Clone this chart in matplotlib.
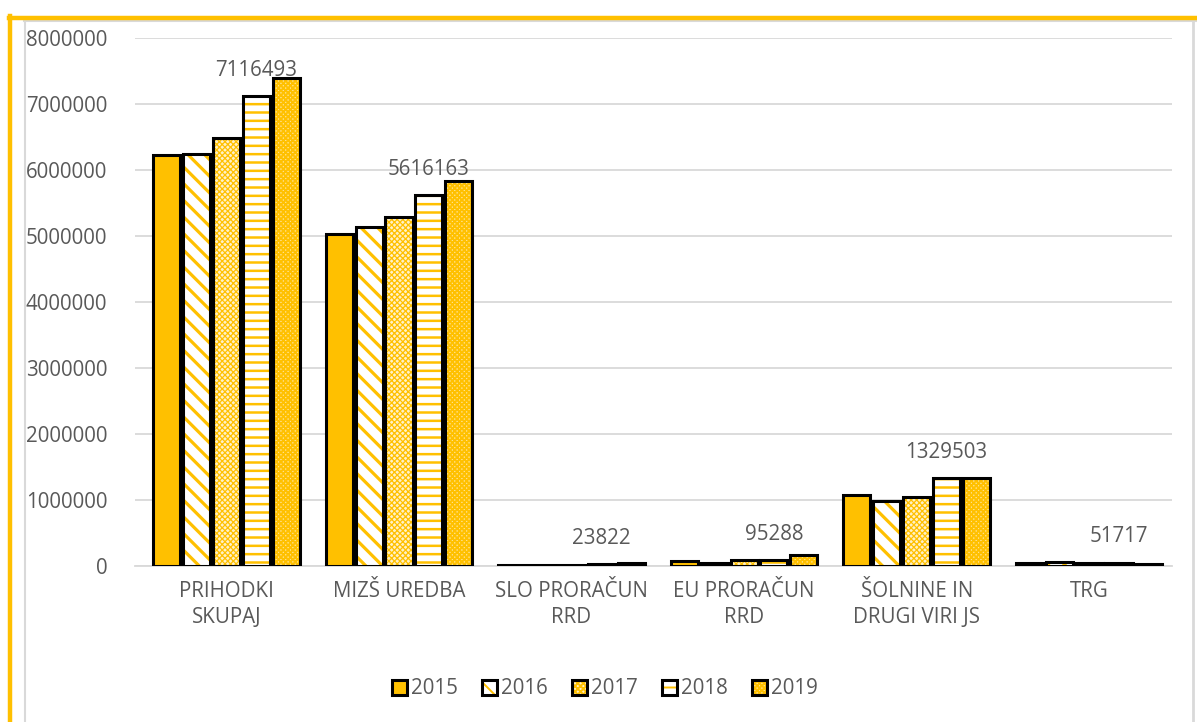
import matplotlib
matplotlib.use("Agg")
import matplotlib.pyplot as plt
import numpy as np
from matplotlib.lines import Line2D

categories = ["PRIHODKI\nSKUPAJ", "MIZŠ UREDBA", "SLO PRORAČUN\nRRD", "EU PRORAČUN\nRRD",
              "ŠOLNINE IN\nDRUGI VIRI JS", "TRG"]
years = ["2015", "2016", "2017", "2018", "2019"]
v2015 = [6220000, 5030000, 15000, 70000, 1080000, 40000]
v2016 = [6240000, 5140000, 10000, 40000, 990000, 55000]
v2017 = [6480000, 5290000, 20000, 90000, 1040000, 50000]
v2018 = [7116493, 5616163, 23822, 95288, 1329503, 51717]
v2019 = [7390000, 5830000, 40000, 170000, 1330000, 25000]
series = [v2015, v2016, v2017, v2018, v2019]
yticks = [0, 1000000, 2000000, 3000000, 4000000, 5000000, 6000000, 7000000, 8000000]

YEL = "#FFC000"
GRAY = "#595959"
plt.rcParams['font.family'] = ['Open Sans', 'DejaVu Sans']
FS = 14.8

styles = [
    dict(face=YEL, hatch=None, hlw=1.0),
    dict(face="white", hatch="\\\\", hlw=2.3),
    dict(face="#FFF1C6", hatch="xxxxxx", hlw=0.9),
    dict(face="white", hatch="--", hlw=1.8),
    dict(face="#FFE391", hatch="xxxxxxx", hlw=1.4),
]

fig = plt.figure(figsize=(11.97, 7.22), dpi=100)
ax = fig.add_axes([135/1197, 1-566/722, (1172-135)/1197, (566-38)/722])

x = np.arange(len(categories))
step = 0.173
width = 0.157
handles = []
for i, (vals, st) in enumerate(zip(series, styles)):
    pos = x + (i - 2) * step
    plt.rcParams['hatch.linewidth'] = st['hlw']
    b1 = ax.bar(pos, vals, width, color=st['face'], edgecolor=YEL, linewidth=0,
                hatch=st['hatch'], zorder=2)
    for p in b1:
        if hasattr(p, 'set_hatch_linewidth'):
            p.set_hatch_linewidth(st['hlw'])
    b2 = ax.bar(pos, vals, width, fill=False, edgecolor="black", linewidth=2.2, zorder=3)
    handles.append((b1[0], b2[0]))
    if i == 3:
        for xp, v in zip(pos, vals):
            ax.text(xp, v + 230000, f"{v}", ha="center", va="bottom", fontsize=FS, color=GRAY)

ax.set_xlim(-0.53, 5.48)
ax.set_ylim(0, 8000000)
ax.set_yticks(yticks)
ax.set_yticklabels([str(t) for t in yticks])
ax.set_xticks(x)
ax.set_xticklabels(categories, linespacing=1.3)
ax.tick_params(axis='y', length=0, pad=20, labelsize=FS, labelcolor=GRAY)
ax.tick_params(axis='x', length=0, pad=11, labelsize=FS, labelcolor=GRAY)
ax.grid(axis='y', color="#D9D9D9", linewidth=1.3, zorder=0)
ax.set_axisbelow(True)
for s in ['top', 'right', 'left']:
    ax.spines[s].set_visible(False)
ax.spines['bottom'].set_color("#D9D9D9")
ax.spines['bottom'].set_linewidth(1.3)

leg = fig.legend(handles, years, loc='center', bbox_to_anchor=(605/1197, 1-689/722), ncol=5,
                 frameon=False, fontsize=FS, handlelength=0.7, handleheight=0.7,
                 handletextpad=0.2, columnspacing=1.2, labelcolor=GRAY)

# frame decorations
fig.add_artist(Line2D([24.5/1197, 24.5/1197], [0, 1-20/722], color="#D9D9D9", linewidth=1.5, transform=fig.transFigure))
fig.add_artist(Line2D([1192.5/1197, 1192.5/1197], [0, 1-20/722], color="#D9D9D9", linewidth=2, transform=fig.transFigure))
fig.add_artist(Line2D([24/1197, 1], [1-20.5/722, 1-20.5/722], color="#D9D9D9", linewidth=1.5, transform=fig.transFigure))
fig.add_artist(Line2D([10/1197, 10/1197], [0, 1-16/722], color=YEL, linewidth=3.2, transform=fig.transFigure))
fig.add_artist(Line2D([8.5/1197, 1], [1-18/722, 1-18/722], color=YEL, linewidth=3.2, transform=fig.transFigure))

fig.savefig("out.png", dpi=100)
